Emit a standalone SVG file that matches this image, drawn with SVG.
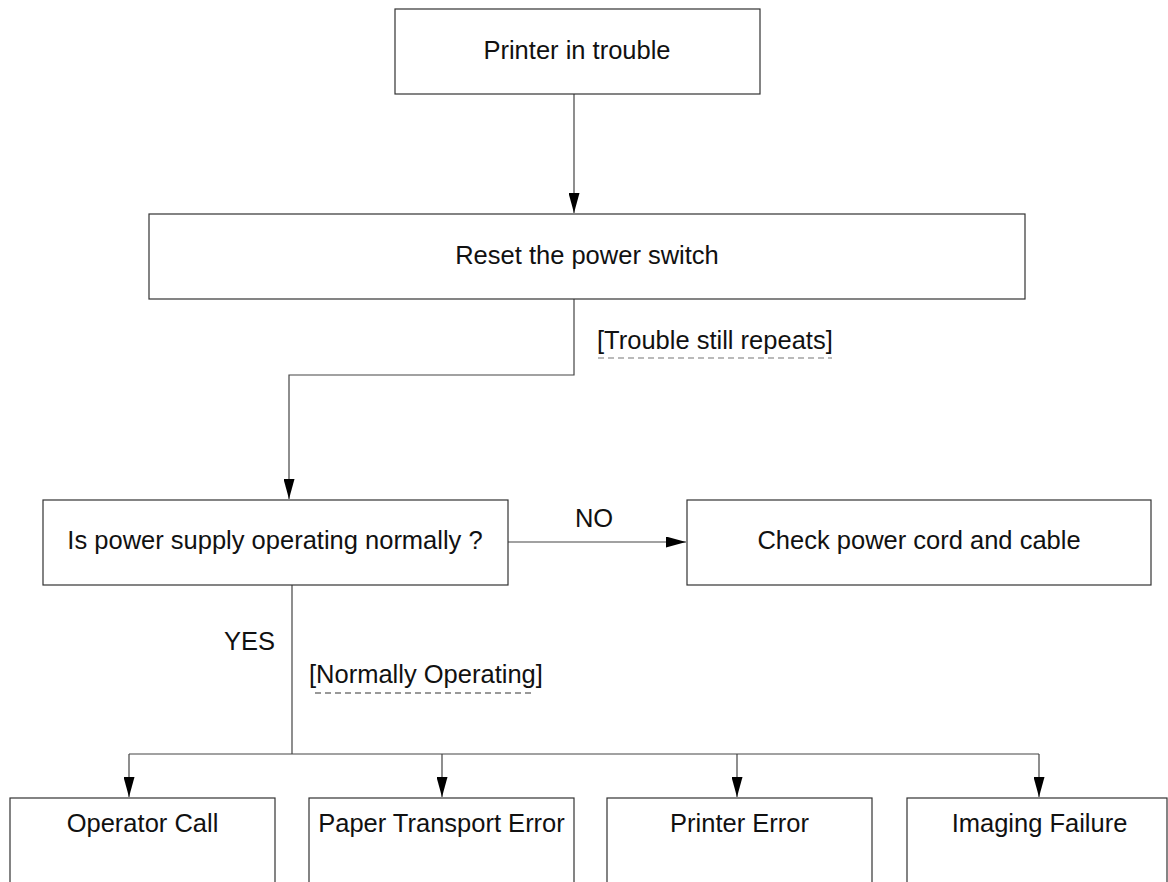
<svg xmlns="http://www.w3.org/2000/svg" width="1168" height="882" viewBox="0 0 1168 882">
  <defs>
    <marker id="arrow" markerUnits="userSpaceOnUse" markerWidth="20" markerHeight="11" refX="20" refY="5.5" orient="auto">
      <path d="M0,0 L20,5.5 L0,11 z" fill="#000"/>
    </marker>
    <style>
      .box { fill: #fff; stroke: #333; stroke-width: 1.2; }
      .lbl { font-family: "Liberation Sans", Arial, sans-serif; font-size: 25.5px; fill: #111; }
      .mid { text-anchor: middle; }
      .conn { fill: none; stroke: #444; stroke-width: 1.2; }
      .dash { fill: none; stroke-width: 1.2; stroke-dasharray: 6 4; }
    </style>
  </defs>
  <rect width="1168" height="882" fill="#fff"/>

  <g id="connectors">
    <path class="conn" d="M574,94 L574,213" marker-end="url(#arrow)"/>
    <path class="conn" d="M574,299 L574,375 L289,375 L289,499" marker-end="url(#arrow)"/>
    <path class="conn" d="M508,542 L686,542" marker-end="url(#arrow)"/>
    <path class="conn" d="M292,585 L292,754"/>
    <path class="conn" d="M129,754 L1039,754"/>
    <path class="conn" d="M129,754 L129,797" marker-end="url(#arrow)"/>
    <path class="conn" d="M442,754 L442,797" marker-end="url(#arrow)"/>
    <path class="conn" d="M737,754 L737,797" marker-end="url(#arrow)"/>
    <path class="conn" d="M1039,754 L1039,797" marker-end="url(#arrow)"/>
    <text class="lbl" x="597" y="349">[Trouble still repeats]</text>
    <line class="dash" x1="598" y1="358" x2="832" y2="358" stroke="#777"/>
    <text class="lbl mid" x="594" y="527">NO</text>
    <text class="lbl" x="275" y="650" text-anchor="end">YES</text>
    <text class="lbl" x="309" y="683">[Normally Operating]</text>
    <line class="dash" x1="315" y1="693" x2="534" y2="693" stroke="#333"/>
  </g>

  <g id="printer-in-trouble">
    <rect class="box" x="395" y="9" width="365" height="85"/>
    <text class="lbl mid" x="577" y="59">Printer in trouble</text>
  </g>
  <g id="reset-power-switch">
    <rect class="box" x="149" y="214" width="876" height="85"/>
    <text class="lbl mid" x="587" y="264">Reset the power switch</text>
  </g>
  <g id="power-supply-check">
    <rect class="box" x="43" y="500" width="465" height="85"/>
    <text class="lbl mid" x="275" y="549">Is power supply operating normally ?</text>
  </g>
  <g id="check-cord">
    <rect class="box" x="687" y="500" width="464" height="85"/>
    <text class="lbl mid" x="919" y="549">Check power cord and cable</text>
  </g>
  <g id="operator-call">
    <rect class="box" x="10" y="798" width="265" height="100"/>
    <text class="lbl mid" x="142.5" y="832">Operator Call</text>
  </g>
  <g id="paper-transport-error">
    <rect class="box" x="309" y="798" width="265" height="100"/>
    <text class="lbl mid" x="441.5" y="832">Paper Transport Error</text>
  </g>
  <g id="printer-error">
    <rect class="box" x="607" y="798" width="265" height="100"/>
    <text class="lbl mid" x="739.5" y="832">Printer Error</text>
  </g>
  <g id="imaging-failure">
    <rect class="box" x="907" y="798" width="260" height="100"/>
    <text class="lbl mid" x="1039.5" y="832">Imaging Failure</text>
  </g>
</svg>
